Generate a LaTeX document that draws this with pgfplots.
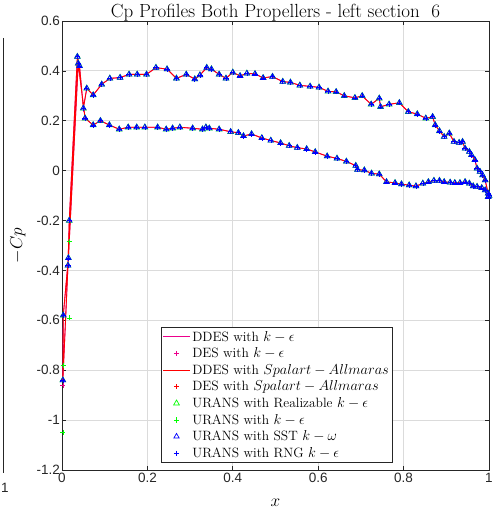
\documentclass[border=0pt]{standalone}
\usepackage{pgfplots}
\pgfplotsset{compat=1.18}
\usepackage{pgfplotstable}
\usepackage{fontspec}
\newfontfamily\tickfont{Liberation Sans}
\definecolor{axgray}{rgb}{0.15,0.15,0.15}
\definecolor{gridgray}{rgb}{0.86,0.86,0.86}

\pgfplotstableread{
x y
1.000 -0.100
0.998 -0.091
0.991 -0.038
0.985 -0.018
0.979 -0.004
0.972 0.009
0.967 0.043
0.959 0.063
0.954 0.076
0.944 0.089
0.938 0.116
0.930 0.112
0.918 0.116
0.907 0.150
0.895 0.136
0.884 0.159
0.874 0.183
0.868 0.216
0.852 0.210
0.832 0.227
0.811 0.236
0.790 0.272
0.766 0.266
0.746 0.256
0.743 0.290
0.724 0.266
0.703 0.300
0.686 0.292
0.661 0.300
0.642 0.316
0.623 0.318
0.602 0.334
0.581 0.338
0.557 0.342
0.535 0.354
0.517 0.357
0.493 0.377
0.471 0.372
0.452 0.388
0.433 0.390
0.417 0.380
0.400 0.394
0.384 0.370
0.368 0.386
0.350 0.407
0.339 0.413
0.323 0.383
0.311 0.367
0.291 0.386
0.268 0.370
0.246 0.407
0.220 0.413
0.198 0.386
0.176 0.386
0.157 0.386
0.136 0.373
0.112 0.370
0.093 0.346
0.073 0.303
0.058 0.330
0.050 0.250
0.041 0.420
0.036 0.457
0.017 -0.200
0.014 -0.380
0.002 -0.840
0.003 -0.580
0.015 -0.350
0.038 0.430
0.054 0.210
0.073 0.183
0.090 0.200
0.111 0.183
0.134 0.166
0.155 0.174
0.175 0.174
0.194 0.174
0.224 0.174
0.244 0.166
0.259 0.170
0.276 0.174
0.306 0.170
0.329 0.166
0.337 0.174
0.345 0.170
0.368 0.166
0.395 0.156
0.413 0.152
0.425 0.139
0.444 0.147
0.468 0.131
0.489 0.121
0.512 0.111
0.532 0.100
0.551 0.092
0.573 0.087
0.593 0.075
0.621 0.058
0.644 0.049
0.666 0.037
0.688 0.020
0.692 0.004
0.708 0.002
0.725 -0.011
0.743 -0.014
0.760 -0.045
0.780 -0.049
0.795 -0.054
0.813 -0.058
0.829 -0.062
0.845 -0.051
0.858 -0.045
0.871 -0.040
0.884 -0.040
0.895 -0.045
0.909 -0.047
0.920 -0.049
0.932 -0.049
0.944 -0.045
0.954 -0.051
0.963 -0.062
0.972 -0.064
0.983 -0.069
0.991 -0.078
0.998 -0.105
}\airfoil

\begin{document}
\begin{tikzpicture}
\useasboundingbox (-62pt,-47pt) rectangle (432pt,470pt);
% fragment of neighbouring panel
\draw[axgray, line width=0.8pt] (-59pt,432pt) -- (-59pt,-3pt);
\node[axgray, font=\tickfont\fontsize{13.5}{15}\selectfont, anchor=center] at (-57pt,-18pt) {1};
\begin{axis}[
  at={(0,0)}, anchor=south west,
  scale only axis, width=427pt, height=449pt,
  xmin=0, xmax=1, ymin=-1.2, ymax=0.6,
  xtick={0,0.2,0.4,0.6,0.8,1},
  ytick={-1.2,-1,-0.8,-0.6,-0.4,-0.2,0,0.2,0.4,0.6},
  yticklabels={-1.2,-1,-0.8,-0.6,-0.4,-0.2,0,0.2,0.4,0.6},
  xticklabels={0,0.2,0.4,0.6,0.8,1},
  tick align=inside, major tick length=4.5pt,
  tick style={axgray, line width=0.7pt},
  axis line style={axgray, line width=0.9pt},
  grid=major, major grid style={gridgray, line width=0.9pt},
  ticklabel style={font=\tickfont\fontsize{13.5}{15}\selectfont, text=axgray},
  yticklabel style={inner sep=1pt, xshift=-1pt},
  xticklabel style={inner sep=1pt, yshift=-2pt},
  title={Cp Profiles Both Propellers - left section~~6},
  title style={font=\fontsize{19}{21}\selectfont, at={(axis description cs:0.5,0.994)}, anchor=base, inner sep=0pt},
  xlabel={$x$}, ylabel={$-Cp$},
  xlabel style={font=\fontsize{16}{18}\selectfont, at={(axis description cs:0.5,-0.0735)}, anchor=center},
  ylabel style={font=\fontsize{16}{18}\selectfont, at={(axis description cs:-0.103,0.5)}, anchor=center},
  legend style={at={(axis description cs:0.503,0.016)}, anchor=south,
    font=\fontsize{13.5}{14}\selectfont, draw=axgray, line width=0.9pt,
    row sep=1.1pt, inner sep=1.5pt, cells={anchor=west}},
  legend image code/.code={\draw[mark repeat=2,mark phase=2] plot coordinates {(0cm,0cm) (0.47cm,0cm) (0.94cm,0cm)};},
]
\addplot[magenta, line width=0.9pt, no marks] table {\airfoil};
\addlegendentry{DDES with $k-\epsilon$}
\addplot[magenta, only marks, mark=+, mark size=2.6pt, mark options={line width=0.6pt}] table {\airfoil};
\addlegendentry{DES with $k-\epsilon$}
\addplot[red, line width=0.8pt, no marks] table {\airfoil};
\addlegendentry{DDES with $Spalart-Allmaras$}
\addplot[red, only marks, mark=+, mark size=2.6pt, mark options={line width=0.6pt}] table {\airfoil};
\addlegendentry{DES with $Spalart-Allmaras$}
\addplot[green, only marks, mark=triangle, mark size=3.3pt, mark options={line width=0.7pt}] table {\airfoil};
\addlegendentry{URANS with Realizable $k-\epsilon$}
\addplot[green, only marks, mark=+, mark size=2.6pt, mark options={line width=0.6pt}] table {\airfoil};
\addlegendentry{URANS with $k-\epsilon$}
\addplot[green, only marks, mark=+, mark size=2.6pt, mark options={line width=0.6pt}, forget plot] coordinates {(0.017,-0.285) (0.017,-0.59) (0.003,-0.78) (0.002,-1.05)};
\addplot[magenta, only marks, mark=+, mark size=2.6pt, mark options={line width=0.6pt}, forget plot] coordinates {(0.002,-0.86)};
\addplot[blue, only marks, mark=triangle, mark size=3.1pt, mark options={line width=0.7pt}] table {\airfoil};
\addlegendentry{URANS with SST $k-\omega$}
\addplot[blue, only marks, mark=+, mark size=2.6pt, mark options={line width=0.6pt}] table {\airfoil};
\addlegendentry{URANS with RNG $k-\epsilon$}
\end{axis}
\end{tikzpicture}
\end{document}
